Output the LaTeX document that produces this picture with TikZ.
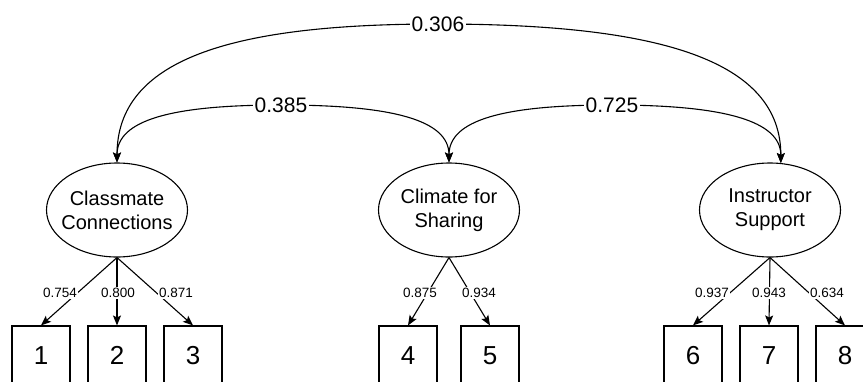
\documentclass[tikz,border=0pt]{standalone}
\usepackage{fontspec}
\setmainfont{Liberation Sans}
\usetikzlibrary{shapes.geometric,arrows.meta}
\begin{document}
\begin{tikzpicture}[x=1pt,y=-1pt,>={Stealth[length=10pt,width=8pt,inset=2pt]},line width=1.1pt,
 latent/.style={ellipse,draw,minimum width=141pt,minimum height=94pt,inner xsep=-8pt,inner ysep=0pt,align=center,font=\fontsize{20}{24}\selectfont},
 item/.style={draw,minimum width=58pt,minimum height=62pt,inner sep=0pt,font=\fontsize{26}{30}\selectfont},
 corr/.style={fill=white,inner xsep=2pt,inner ysep=1pt,font=\fontsize{21}{24}\selectfont},
 load/.style={fill=white,inner sep=1pt,font=\fontsize{13.5}{16}\selectfont}]
 \useasboundingbox (0,0) rectangle (863,381);
 \fill[white] (0,0) rectangle (863,381);
 \clip (0,0) rectangle (863,381);
 % factors
 \node[latent] (cm) at (117,210) {Classmate\\Connections};
 \node[latent] (cs) at (449,210) {Climate for\\Sharing};
 \node[latent] (is) at (770,210) {Instructor\\Support};
 % items
 \foreach \n/\x in {1/41,2/117,3/193,4/408,5/490,6/693,7/769,8/845}
 \node[item] (i\n) at (\x,357) {\raisebox{3pt}{\n}};
 % correlations
 \draw[<->] (cm.north) .. controls +(0,-102) and +(-210,0) .. (438,24) node[corr] (r13) {0.306}
 .. controls +(224,0) and +(0,-102) .. (is.77);
 \draw[<->] (cm.north) .. controls +(0,-42) and +(-111,0) .. (281,105) node[corr] (r12) {0.385}
 .. controls +(113,0) and +(0,-42) .. (cs.north);
 \draw[<->] (cs.north) .. controls +(0,-42) and +(-110,0) .. (612,105) node[corr] (r23) {0.725}
 .. controls +(113,0) and +(0,-42) .. (is.77);
 % loadings
 \foreach \f/\n in {cm/1,cm/2,cm/3,cs/4,cs/5,is/6,is/7,is/8}
 \draw[->] (\f.south) -- (i\n.north);
 \foreach \n/\x/\v in {1/60/0.754,2/118/0.800,3/176/0.871,4/420/0.875,5/479/0.934,6/712/0.937,7/769/0.943,8/827/0.634}
 \node[load] (l\n) at (\x,293) {\v};
\end{tikzpicture}
\end{document}
